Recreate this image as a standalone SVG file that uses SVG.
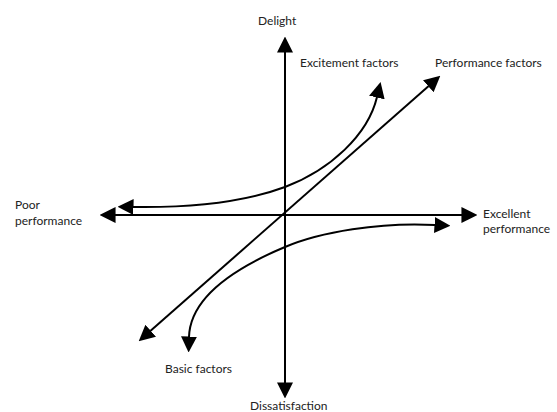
<svg xmlns="http://www.w3.org/2000/svg" width="557" height="412" viewBox="0 0 557 412">
<style>
.ln{fill:none;stroke:#000;stroke-width:2}
.t{font-family:Lato,"Open Sans","DejaVu Sans",sans-serif;font-size:12px;fill:#222}
</style>
<defs>
<marker id="ah" markerUnits="userSpaceOnUse" markerWidth="16" markerHeight="16" refX="0.5" refY="7.5" orient="auto-start-reverse" viewBox="0 0 15 15">
<path d="M0,0 L15,7.5 L0,15 Z" fill="#000"/>
</marker>
</defs>
<rect width="557" height="412" fill="#fff"/>
<g id="connectors">
<line class="ln" x1="285" y1="52" x2="285" y2="383" marker-start="url(#ah)" marker-end="url(#ah)"/>
<line class="ln" x1="115" y1="215" x2="462" y2="215" marker-start="url(#ah)" marker-end="url(#ah)"/>
<line class="ln" x1="150.3" y1="331.1" x2="428.7" y2="85.9" marker-start="url(#ah)" marker-end="url(#ah)"/>
<path class="ln" d="M133 207 C200 208 250 200 285 187 C330 170 368 135 377 97" marker-start="url(#ah)" marker-end="url(#ah)"/>
<path class="ln" d="M435 225 C380 222 320 232 285 247 C230 270 190 300 189 337" marker-start="url(#ah)" marker-end="url(#ah)"/>
</g>
<g id="delight"><text class="t" x="258" y="25">Delight</text></g>
<g id="dissatisfaction"><text class="t" x="250" y="410">Dissatisfaction</text></g>
<g id="poor"><text class="t" x="15" y="209">Poor</text><text class="t" x="15" y="225">performance</text></g>
<g id="excellent"><text class="t" x="483" y="218">Excellent</text><text class="t" x="483" y="233">performance</text></g>
<g id="excitement"><text class="t" x="300" y="67">Excitement factors</text></g>
<g id="performance"><text class="t" x="435" y="67">Performance factors</text></g>
<g id="basic"><text class="t" x="165" y="373">Basic factors</text></g>
</svg>
